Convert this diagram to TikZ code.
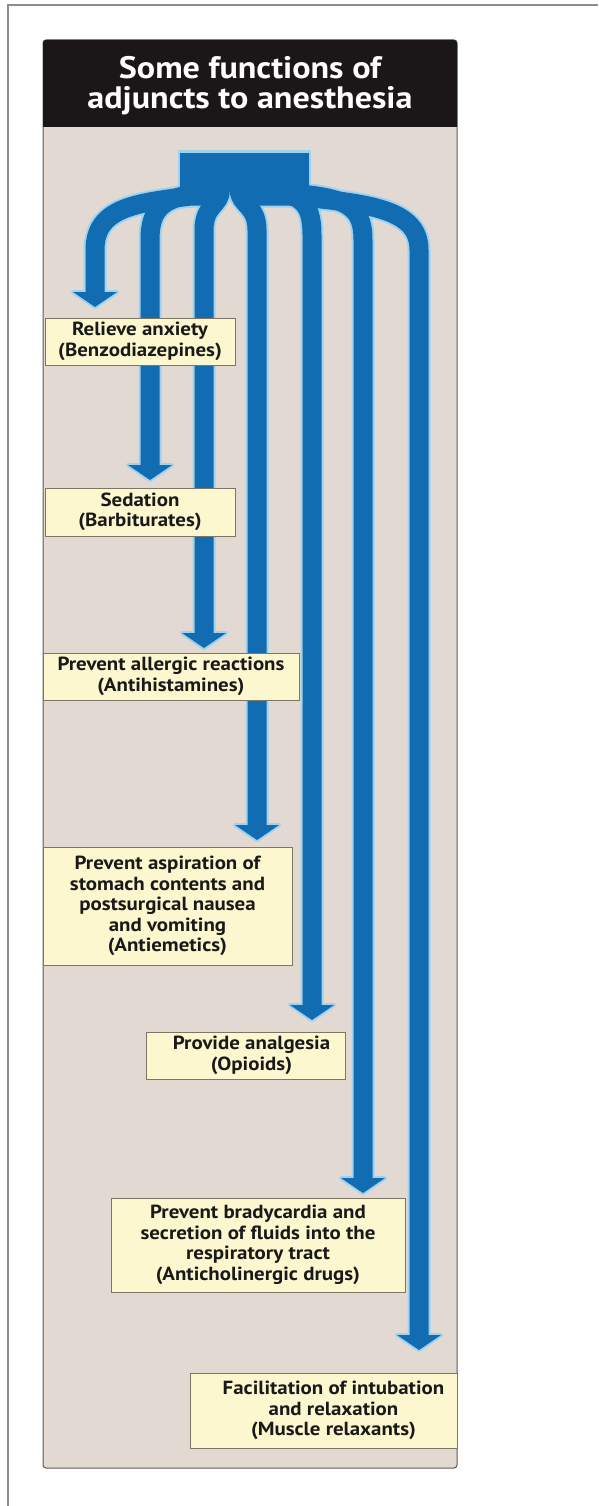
\documentclass[tikz,border=0pt]{standalone}
\usepackage{fontspec}
\setmainfont{PT Sans}[FakeStretch=1.1]
\usetikzlibrary{calc}
\definecolor{fork}{RGB}{18,108,178}
\definecolor{halo}{RGB}{160,210,238}
\definecolor{panel}{RGB}{226,218,210}
\definecolor{boxfill}{RGB}{252,247,206}
\definecolor{boxline}{RGB}{125,118,98}
\definecolor{headbg}{RGB}{27,23,24}
\definecolor{framegray}{RGB}{140,140,140}
\definecolor{panelline}{RGB}{95,88,88}
\tikzset{
  fbox/.style={draw=boxline, line width=0.8pt, fill=boxfill, align=center, inner sep=0pt,
    font=\fontsize{19}{20.5}\selectfont\bfseries, text=black!90},
  armhalo/.style={draw=halo, line width=23pt},
  arm/.style={draw=fork, line width=19pt},
}
\begin{document}
\begin{tikzpicture}[x=1pt,y=-1pt]
\useasboundingbox (0,0) rectangle (598,1506);
\fill[white] (0,0) rectangle (598,1506);
% outer frame
\draw[framegray, line width=2pt] (8,1506) -- (8,5) -- (598,5);
% panel
\draw[panelline, fill=panel, line width=1pt, rounded corners=3pt] (43,40) rectangle (457,1468);
\fill[headbg] (43,127) [rounded corners=3pt] -- (43,40) -- (457,40) [sharp corners] -- (457,127) -- cycle;
\node[text=white, align=center, font=\fontsize{31}{30}\selectfont\bfseries] (title) at (250,86)
  {Some functions of\\adjuncts to anesthesia};
% trunk (source of the fork)
\node[fill=halo, minimum width=133pt, minimum height=39pt, inner sep=0pt] (srch) at (244.5,170) {};
\node[minimum width=129pt, minimum height=34pt, inner sep=0pt] (src) at (244.5,170) {};
% arrow tips
\foreach \i/\x/\t in {1/95/307, 2/150/480, 3/204/648, 4/257/840, 5/312/1020, 6/363/1193, 7/419/1350}
  \coordinate (tip\i) at (\x,\t);
% arm geometry (offsets from the trunk's south west corner, then absolute bend points)
\def\armlist{
  1/34/9/10/9/135/203/95/208/95/250,
  2/34/5/25/5/165/197/150/206/150/240,
  3/40.5/-12/40.5/3/220.5/205/204/205/204/230,
  4/59.5/-12/59.5/3/239.5/205/257/205/257/230,
  5/68/3/80/3/300/193/312/201/312/235,
  6/68/5/95/5/345/196/363/204/363/240,
  7/68/9/110/9/372/203/419/210/419/250}
% halos
\foreach \i/\px/\py/\sx/\sy/\ax/\ay/\bx/\by/\x/\ey in \armlist
{
  \draw[armhalo] ($(src.south west)+(\px,\py)$) -- ($(src.south west)+(\sx,\sy)$) .. controls (\ax,\ay) and (\bx,\by) .. (\x,\ey) -- ($(tip\i)+(0,-14)$);
  \filldraw[halo, line width=4pt, line join=round] ($(tip\i)+(-22,-15)$) -- ($(tip\i)+(22,-15)$) -- (tip\i) -- cycle;
}
% blue arms
\foreach \i/\px/\py/\sx/\sy/\ax/\ay/\bx/\by/\x/\ey in \armlist
{
  \draw[arm] ($(src.south west)+(\px,\py)$) -- ($(src.south west)+(\sx,\sy)$) .. controls (\ax,\ay) and (\bx,\by) .. (\x,\ey) -- ($(tip\i)+(0,-14)$);
  \fill[fork] ($(tip\i)+(-22,-15)$) -- ($(tip\i)+(22,-15)$) -- (tip\i) -- cycle;
}
\fill[fork] (src.south west) rectangle (src.north east);
% boxes
\node[fbox, minimum width=190pt, minimum height=47pt] (b1) at (140,341.5) {Relieve anxiety\\(Benzodiazepines)};
\node[fbox, minimum width=190pt, minimum height=48pt] (b2) at (140,512) {Sedation\\(Barbiturates)};
\node[fbox, minimum width=256pt, minimum height=47pt] (b3) at (171,676.5) {Prevent allergic reactions\\(Antihistamines)};
\node[fbox, minimum width=249pt, minimum height=118pt] (b4) at (167.5,906) {Prevent aspiration of\\stomach contents and\\postsurgical nausea\\and vomiting\\(Antiemetics)};
\node[fbox, minimum width=199pt, minimum height=47pt] (b5) at (245.5,1055.5) {\hspace*{12pt}Provide analgesia\\\hspace*{12pt}(Opioids)};
\node[fbox, minimum width=294pt, minimum height=94pt] (b6) at (258,1245) {Prevent bradycardia and\\secretion of fluids into the\\respiratory tract\\(Anticholinergic drugs)};
\node[fbox, minimum width=267pt, minimum height=75pt] (b7) at (323.5,1410.5) {\hspace*{20pt}Facilitation of intubation\\\hspace*{20pt}and relaxation\\\hspace*{20pt}(Muscle relaxants)};
\end{tikzpicture}
\end{document}
